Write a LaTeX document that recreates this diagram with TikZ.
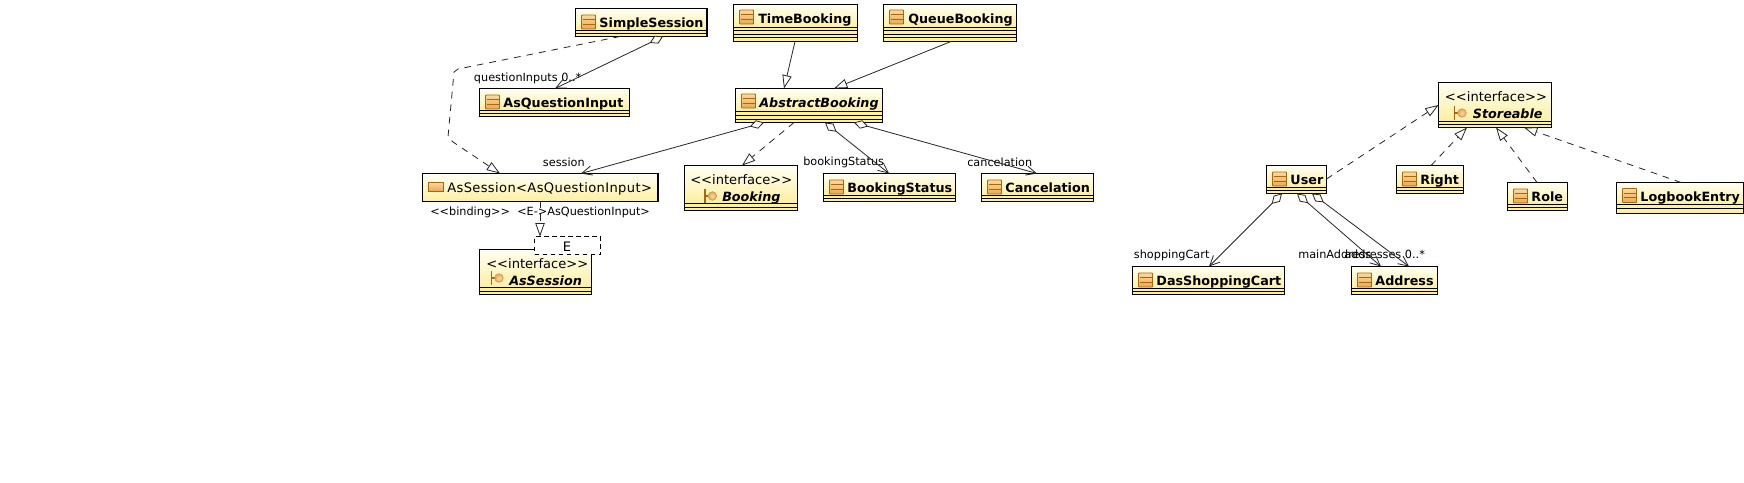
\documentclass[tikz,border=0pt]{standalone}
\usepackage{fontspec}
\usetikzlibrary{arrows.meta}
\newfontfamily\regf{DejaVu Sans}
\newfontfamily\regwf{DejaVu Sans}[LetterSpace=2.8]
\newfontfamily\boldf{DejaVu Sans Bold}
\newfontfamily\boldobf{DejaVu Sans Bold Oblique}
\definecolor{gtop}{HTML}{FFFFF4}
\definecolor{gbot}{HTML}{FDEFA0}
\definecolor{stripc}{HTML}{FFF0A0}
\definecolor{icona}{HTML}{FBD9A0}
\definecolor{iconb}{HTML}{E9A94F}
\definecolor{iconl}{HTML}{A9650F}
\tikzset{
  x=0.75pt,y=-0.75pt,
  cls/.style={draw=black,line width=0.8pt,inner sep=0pt,outer sep=0pt},
  sepl/.style={draw=black,line width=0.55pt},
  namet/.style={inner sep=0pt,anchor=base west,font=\boldf\fontsize{9.55}{11}\selectfont},
  abst/.style={inner sep=0pt,anchor=base west,font=\boldobf\fontsize{9.55}{11}\selectfont},
  regt/.style={inner sep=0pt,anchor=base west,font=\regf\fontsize{9.8}{11}\selectfont},
  regw/.style={inner sep=0pt,anchor=base west,font=\regwf\fontsize{9.8}{11}\selectfont},
  edget/.style={inner sep=0pt,anchor=base west,font=\regf\fontsize{8.45}{10}\selectfont},
  conn/.style={draw=black!85,line width=0.6pt},
  agg/.style={conn,{Diamond[open,length=11pt,width=6.5pt,fill=white]}-{Straight Barb[length=7.5pt,width=7pt]}},
  inh/.style={conn,-{Triangle[open,length=10pt,width=7pt,fill=white]}},
  real/.style={inh,dash pattern=on 5pt off 4.5pt},
}
% name, x1,y1,x2,y2, first separator, further separators
\newcommand{\clsbox}[7]{%
  \fill[stripc] (#2,#3) rectangle (#4,#5);
  \shade[top color=gtop,bottom color=gbot] (#2,#3) rectangle (#4,#6);
  \foreach \sy in {#6,#7} {\draw[sepl] (#2,\sy) -- (#4,\sy);}
  \pgfmathsetlengthmacro{\bw}{(#4-#2)*0.75}%
  \pgfmathsetlengthmacro{\bh}{(#5-#3)*0.75}%
  \node[cls,minimum width=\bw,minimum height=\bh,anchor=north west] (#1) at (#2,#3) {};
}
% class icon at x,y
\newcommand{\clsicon}[2]{%
  \begin{scope}[shift={(#1,#2)}]
  \shade[top color=icona,bottom color=iconb,draw=iconl,line width=0.7pt,rounded corners=0.5pt] (0,0) rectangle (14,14);
  \draw[iconl,line width=0.5pt] (1,4.7) -- (13,4.7) (1,9.3) -- (13,9.3);
  \end{scope}
}
% interface icon: bar x, centre y
\newcommand{\ifaceicon}[2]{%
  \begin{scope}[shift={(#1,#2)}]
  \draw[iconl,line width=0.8pt] (0,-7) -- (0,7) (0,0) -- (3,0);
  \shade[inner color=icona,outer color=iconb,draw=iconl!70,line width=0.4pt] (7.3,0) circle (4.3);
  \end{scope}
}
% simple class: name x1 y1 x2 y2 label
\newcommand{\simplecls}[6]{%
  \pgfmathsetmacro{\sa}{#5-6}\pgfmathsetmacro{\sb}{#5-3}%
  \clsbox{#1}{#2}{#3}{#4}{#5}{\sa}{\sb}%
  \pgfmathsetmacro{\ix}{#2+6}\pgfmathsetmacro{\iy}{#3+6.5}%
  \clsicon{\ix}{\iy}%
  \pgfmathsetmacro{\tx}{#2+23.7}\pgfmathsetmacro{\ty}{#3+18.8}%
  \node[namet] (#1-t) at (\tx,\ty) {#6};
}
\begin{document}
\begin{tikzpicture}
\useasboundingbox (0,0) rectangle (1744,482);
\fill[white] (0,0) rectangle (1744,482);

\simplecls{simple}{575.5}{8.5}{707}{36.5}{SimpleSession}
\simplecls{asq}{479.5}{88.5}{629.5}{116.5}{AsQuestionInput}
\simplecls{bstat}{823.5}{173.5}{955.5}{201.5}{BookingStatus}
\simplecls{cancel}{981.5}{173.5}{1093.5}{201.5}{Cancelation}
\simplecls{user}{1266.5}{165.5}{1326.5}{193.5}{User}
\simplecls{cart}{1132.5}{266.5}{1284.5}{294.5}{DasShoppingCart}
\simplecls{addr}{1351.5}{266.5}{1437.5}{294.5}{Address}
\simplecls{right}{1396.5}{165.5}{1463.5}{193.5}{Right}
\simplecls{role}{1507.5}{182.5}{1567.5}{210.5}{Role}

\clsbox{log}{1616.5}{182.5}{1743.5}{213.5}{204.5}{208.5}
\clsicon{1622.5}{188.5}
\node[namet] (log-t) at (1640.2,201.3) {LogbookEntry};

\clsbox{time}{733.5}{4.5}{857.5}{41.5}{27}{30.5,34,37.5}
\clsicon{739.5}{10}
\node[namet] (time-t) at (758,23.3) {TimeBooking};
\clsbox{queue}{883.5}{4.5}{1016.5}{41.5}{27}{30.5,34,37.5}
\clsicon{889.5}{10}
\node[namet] (queue-t) at (908,23.3) {QueueBooking};
\clsbox{abook}{735.5}{88.5}{882.5}{122.5}{111.5}{115,119}
\clsicon{741.5}{94}
\node[abst] (abook-t) at (759,107.3) {AbstractBooking};

% template class
\clsbox{sess}{422.5}{173.5}{658}{201.5}{201.5}{201.5}
\shade[top color=icona,bottom color=iconb,draw=iconl,line width=0.7pt] (428.5,182.5) rectangle (443.5,191);
\node[regw] (sess-t) at (447,192.7) {AsSession<{}AsQuestionInput>};

% interfaces
\clsbox{ibook}{684.5}{165.5}{797.5}{210.5}{203.5}{207}
\node[regt] (ibook-s) at (690,184.3) {<{}<interface>{}>};
\ifaceicon{705}{196}
\node[abst] (ibook-t) at (722,201) {Booking};

\clsbox{isess}{479.5}{249.5}{591.5}{294.5}{287.5}{291}
\node[regt] (isess-s) at (486,268.3) {<{}<interface>{}>};
\ifaceicon{491.7}{278}
\node[abst] (isess-t) at (509,285) {AsSession};

\clsbox{stor}{1438.5}{82.5}{1551.5}{127.5}{121}{124.5}
\node[regt] (stor-s) at (1444.7,101.3) {<{}<interface>{}>};
\ifaceicon{1454.7}{113}
\node[abst] (stor-t) at (1472.7,118) {Storeable};

% template parameter box
\pgfmathsetlengthmacro{\ew}{66*0.75}\pgfmathsetlengthmacro{\eh}{18*0.75}
\node[draw=black,fill=white,dash pattern=on 3.5pt off 2.5pt,line width=0.6pt,inner sep=0pt,outer sep=0pt,minimum width=\ew,minimum height=\eh,anchor=north west] (ebox) at (534.5,236.5) {};
\node[regt,anchor=base] (ebox-t) at (567,251) {E};

% edge labels
\node[edget] (l1) at (473.7,81) {questionInputs 0..*};
\node[edget] (l2) at (542.7,166.7) {session};
\node[edget] (l3) at (430,215) {<{}<binding>{}>};
\node[edget] (l4) at (517,215) {<E->{}AsQuestionInput>};
\node[edget] (l5) at (803,165) {bookingStatus};
\node[edget] (l6) at (967,166.7) {cancelation};
\node[edget] (l7) at (1133.7,258.3) {shoppingCart};
\node[edget] (l8) at (1298,258.3) {mainAddress};
\node[edget] (l9) at (1344,258.3) {addresses 0..*};

% connectors
\draw[agg] (simple.south -| 663,0) -- (asq.north -| 555,0);
\coordinate (b1) at (458,69);
\coordinate (b2) at (454,72);
\coordinate (b3) at (448,137);
\coordinate (b4) at (453,142);
\draw[real] (simple.south -| 620,0) -- (b1) -- (b2) -- (b3) -- (b4) -- (sess.north -| 500,0);
\draw[inh] (time.south -| 795,0) -- (abook.north -| 784,0);
\draw[inh] (queue.south -| 951,0) -- (abook.north -| 834,0);
\draw[agg] (abook.south -| 764,0) -- (sess.north -| 581,0);
\draw[real] (abook.south -| 794,0) -- (ibook.north -| 742,0);
\draw[agg] (abook.south -| 825,0) -- (bstat.north -| 889,0);
\draw[agg] (abook.south -| 854,0) -- (cancel.north -| 1037,0);
\draw[real] (sess.south -| 540,0) -- (ebox.north -| 540,0);
\draw[real] (user.east |- 0,179) -- (stor.west |- 0,105);
\draw[real] (right.north -| 1431,0) -- (stor.south -| 1467,0);
\draw[real] (role.north -| 1537,0) -- (stor.south -| 1496,0);
\draw[real] (log.north -| 1681,0) -- (stor.south -| 1524,0);
\draw[agg] (user.south -| 1282,0) -- (cart.north -| 1209,0);
\draw[agg] (user.south -| 1297,0) -- (addr.north -| 1381,0);
\draw[agg] (user.south -| 1312,0) -- (addr.north -| 1409,0);
\end{tikzpicture}
\end{document}
